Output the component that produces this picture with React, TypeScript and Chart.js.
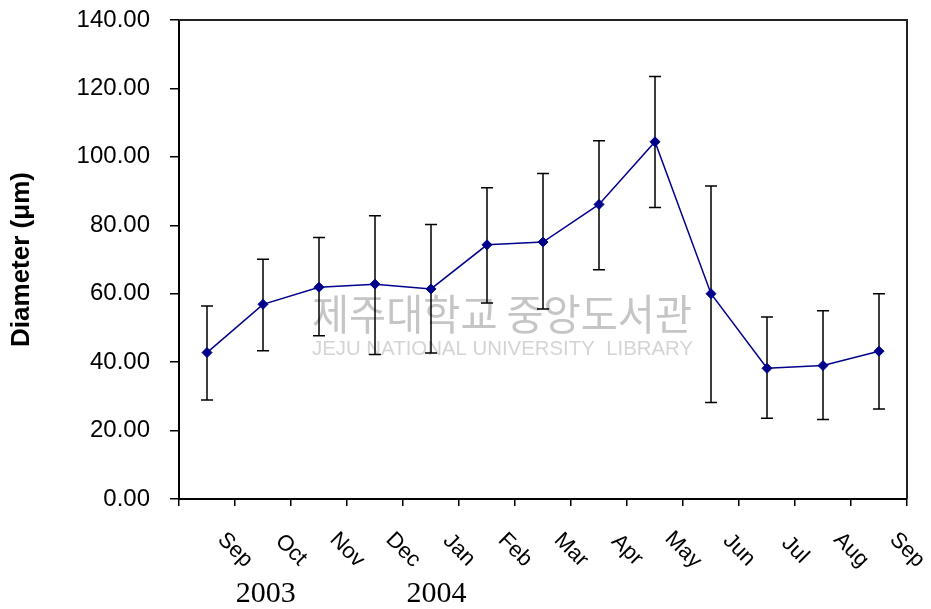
import React, { useEffect, useRef } from "react";
import { Chart, registerables } from "chart.js";

Chart.register(...registerables);

const monthLabels = ["Sep", "Oct", "Nov", "Dec", "Jan", "Feb", "Mar", "Apr", "May", "Jun", "Jul", "Aug", "Sep"];
const meanDiameter = [42.8, 56.9, 61.9, 62.8, 61.4, 74.3, 75.1, 86.1, 104.4, 60.0, 38.2, 39.0, 43.2];
const upperBound = [56.4, 70.1, 76.4, 82.8, 80.2, 91.0, 95.1, 104.7, 123.5, 91.5, 53.2, 55.0, 60.0];
const lowerBound = [28.9, 43.3, 47.7, 42.2, 42.7, 57.3, 55.5, 67.0, 85.2, 28.2, 23.6, 23.2, 26.3];
const yearLabels = ["2003", "2004"];
const yTicks = [0, 20, 40, 60, 80, 100, 120, 140];

const SANS = "'Liberation Sans', Arial, sans-serif";

const decorPlugin = {
  id: "decor",
  beforeDatasetsDraw(chart: any) {
    const { ctx, chartArea } = chart;
    ctx.save();
    // watermark
    ctx.fillStyle = "rgba(150,150,150,0.55)";
    ctx.font = "42px 'Noto Sans CJK KR', sans-serif";
    ctx.textAlign = "left";
    ctx.textBaseline = "middle";
    ctx.fillText("제주대학교 중앙도서관", 312, 314, 380);
    ctx.fillStyle = "rgba(170,170,170,0.5)";
    ctx.font = "21px " + SANS;
    ctx.fillText("JEJU NATIONAL UNIVERSITY  LIBRARY", 312, 349, 381);
    // frame top & right
    ctx.strokeStyle = "#222";
    ctx.lineWidth = 2;
    ctx.beginPath();
    ctx.moveTo(chartArea.left, chartArea.top);
    ctx.lineTo(chartArea.right, chartArea.top);
    ctx.lineTo(chartArea.right, chartArea.bottom);
    ctx.stroke();
    // error bars
    const xs = chart.scales.x;
    const ys = chart.scales.y;
    ctx.strokeStyle = "#000";
    ctx.lineWidth = 1.5;
    meanDiameter.forEach((_, i) => {
      const x = xs.getPixelForValue(i + 0.5);
      const yt = ys.getPixelForValue(upperBound[i]);
      const yb = ys.getPixelForValue(lowerBound[i]);
      ctx.beginPath();
      ctx.moveTo(x, yt);
      ctx.lineTo(x, yb);
      ctx.moveTo(x - 6, yt);
      ctx.lineTo(x + 6, yt);
      ctx.moveTo(x - 6, yb);
      ctx.lineTo(x + 6, yb);
      ctx.stroke();
    });
    ctx.restore();
  },
  afterDraw(chart: any) {
    const { ctx, chartArea } = chart;
    const xs = chart.scales.x;
    ctx.save();
    ctx.fillStyle = "#000";
    ctx.font = "22px " + SANS;
    ctx.textAlign = "center";
    ctx.textBaseline = "middle";
    monthLabels.forEach((lab, i) => {
      const x = xs.getPixelForValue(i + 1);
      const y = chartArea.bottom + 51;
      ctx.save();
      ctx.translate(x, y);
      ctx.rotate(Math.PI / 4);
      ctx.fillText(lab, 0, 0);
      ctx.restore();
    });
    ctx.font = "30px 'Liberation Serif', 'Times New Roman', serif";
    ctx.textBaseline = "alphabetic";
    const yearPos = [1.55, 4.6];
    yearLabels.forEach((lab, i) => {
      ctx.fillText(lab, xs.getPixelForValue(yearPos[i]), chartArea.bottom + 103);
    });
    ctx.restore();
  },
};

export default function App() {
  const ref = useRef<HTMLCanvasElement>(null);
  useEffect(() => {
    if (!ref.current) return;
    Chart.defaults.font.family = SANS;
    const chart = new Chart(ref.current, {
      type: "line",
      data: {
        datasets: [
          {
            data: meanDiameter.map((v, i) => ({ x: i + 0.5, y: v })),
            borderColor: "#00008B",
            backgroundColor: "#00008B",
            borderWidth: 1.5,
            pointStyle: "rectRot",
            pointRadius: 5,
            pointBorderWidth: 1,
            tension: 0,
          },
        ],
      },
      options: {
        animation: false,
        responsive: false,
        events: [],
        layout: { padding: { top: 20, right: 24, left: 0, bottom: 0 } },
        plugins: { legend: { display: false }, tooltip: { enabled: false } },
        scales: {
          x: {
            type: "linear",
            min: 0,
            max: monthLabels.length,
            afterFit: (s: any) => {
              s.height = 110;
              s.paddingLeft = 0;
              s.paddingRight = 0;
            },
            afterBuildTicks: (s: any) => {
              s.ticks = monthLabels.map((_, i) => ({ value: i })).concat([{ value: monthLabels.length }]);
            },
            ticks: { callback: () => "", autoSkip: false, maxRotation: 0 },
            grid: { drawOnChartArea: false, drawTicks: true, tickLength: 7, color: "#000", lineWidth: 1.5 },
            border: { color: "#000", width: 2 },
          },
          y: {
            min: 0,
            max: 140,
            afterFit: (s: any) => {
              s.width = 179;
              s.paddingTop = 0;
              s.paddingBottom = 0;
            },
            afterBuildTicks: (s: any) => {
              s.ticks = yTicks.map((v) => ({ value: v }));
            },
            ticks: {
              callback: (v: any) => Number(v).toFixed(2),
              color: "#000",
              font: { size: 24 },
              padding: 20,
            },
            grid: { drawOnChartArea: false, drawTicks: true, tickLength: 9, color: "#000", lineWidth: 1.5 },
            border: { color: "#000", width: 2 },
            title: {
              display: true,
              text: "Diameter (μm)",
              color: "#000",
              font: { size: 26, weight: "bold" },
              padding: { top: 6, bottom: 0 },
            },
          },
        },
      },
      plugins: [decorPlugin],
    } as any);
    return () => chart.destroy();
  }, []);
  return (
    <div style={{ position: "absolute", left: 0, top: 0, width: 931, height: 609, background: "#fff" }}>
      <canvas ref={ref} width={931} height={609} style={{ display: "block" }} />
    </div>
  );
}
